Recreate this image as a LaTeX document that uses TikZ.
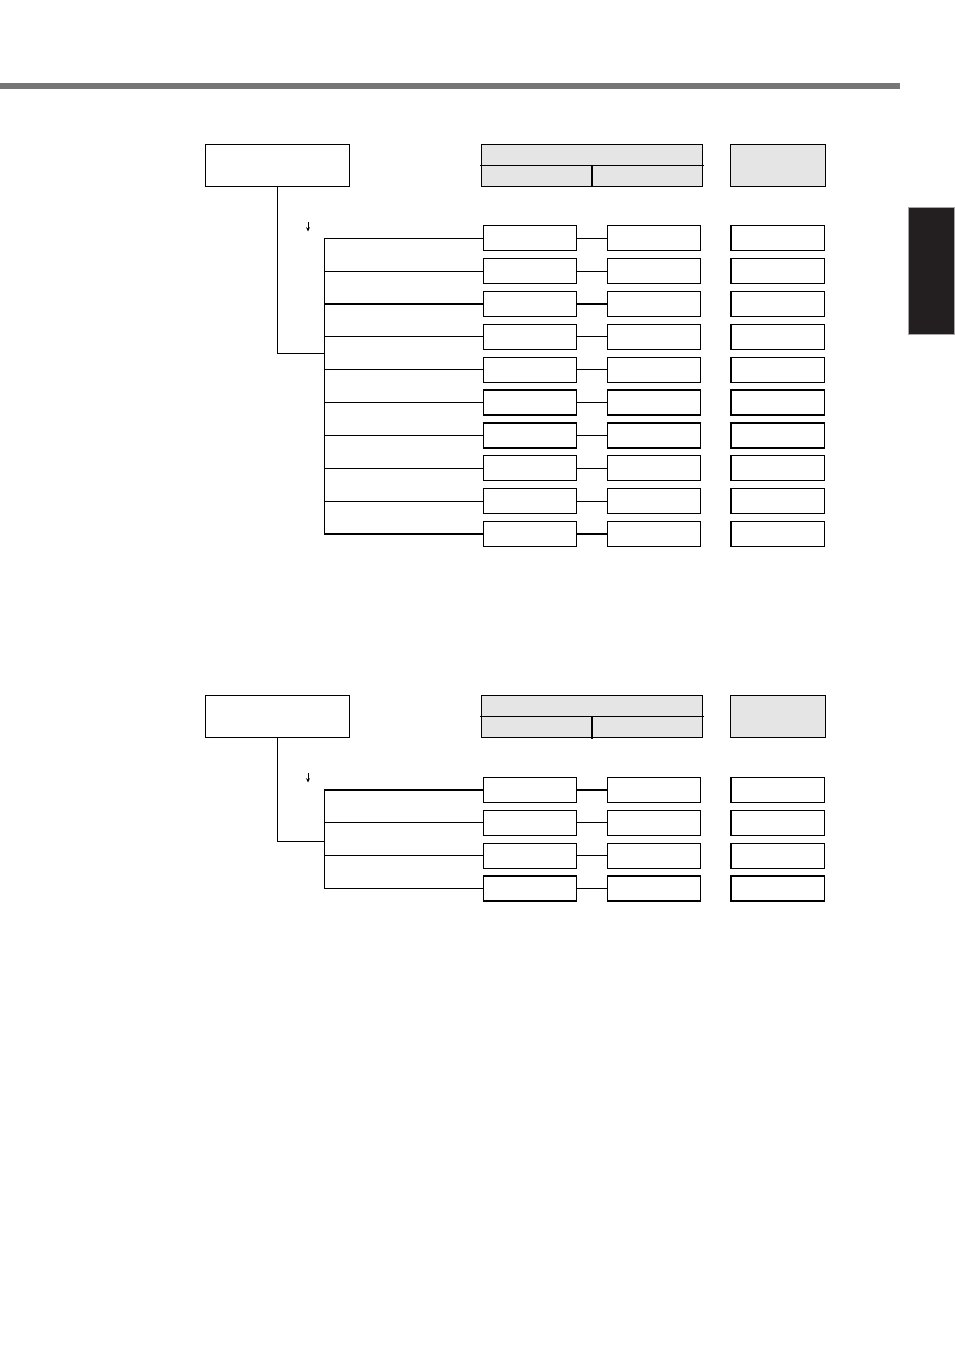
\documentclass[tikz,border=0pt]{standalone}
\usepackage{xcolor}
\definecolor{rulegray}{RGB}{118,118,118}
\definecolor{tabblack}{RGB}{35,31,32}
\definecolor{hdrgray}{RGB}{229,229,229}
\usetikzlibrary{positioning,arrows.meta}
\tikzset{
  mainbox/.style ={rectangle,draw=black,line width=0.9pt,inner sep=0pt,
                   minimum width=108.3pt,minimum height=31.5pt},
  hdrbox/.style  ={rectangle,draw=black,fill=hdrgray,line width=0.9pt,inner sep=0pt,
                   minimum height=31.5pt},
  rowbox/.style  ={rectangle,draw=black,line width=0.9pt,inner sep=0pt,
                   minimum width=70pt,minimum height=18.75pt},
  link/.style    ={line width=0.9pt,draw=black,line cap=rect},
  downtip/.style ={-{Stealth[length=3.2pt,width=2.8pt]},line width=0.5pt},
}
\begin{document}
\begin{tikzpicture}[x=0.75pt,y=-0.75pt,node distance=5pt and 22pt]
  \useasboundingbox (0,0) rectangle (954,1351);
  % page rule and side tab
  \fill[rulegray] (0,83) rectangle (900,89);
  \filldraw[fill=tabblack,draw=gray!70,line width=0.5pt] (908.3,207.3) rectangle (954,334.3);

  % upper chart
  \node[mainbox] (tmain) at (277.5,165.3) {};
  \node[hdrbox,minimum width=166pt] (thead) at (592,165.3) {};
  \node[hdrbox,minimum width=71.5pt] (tnote) at (778,165.3) {};
  \draw[link] (thead.west) -- (thead.east);
  \draw[link] (thead.center) -- (thead.south);
  \coordinate (tbus) at (324.3,353.3);
  \coordinate (tarr) at (308,222);
  \coordinate (tarrend) at (308,231.5);
  \draw[downtip] (tarr) -- (tarrend);
  \foreach \i in {0,...,9}{
    \node[rowbox] (ta\i) at (530,238.3+32.85*\i) {};
    \node[rowbox,right=of ta\i] (tb\i) {};
    \node[rowbox,right=of tb\i] (tc\i) {};
    \draw[link] (ta\i) -- (tb\i);
    \draw[link] (tbus |- ta\i) -- (ta\i);
  }
  \draw[link] (tbus |- ta0) -- (tbus |- ta9);
  \draw[link] (tmain) |- (tbus);

  % lower chart
  \node[mainbox] (bmain) at (277.5,716.7) {};
  \node[hdrbox,minimum width=166pt] (bhead) at (592,716.7) {};
  \node[hdrbox,minimum width=71.5pt] (bnote) at (778,716.7) {};
  \draw[link] (bhead.west) -- (bhead.east);
  \draw[link] (bhead.center) -- (bhead.south);
  \coordinate (bbus) at (324.3,841.3);
  \coordinate (barr) at (308,773);
  \coordinate (barrend) at (308,782.5);
  \draw[downtip] (barr) -- (barrend);
  \foreach \i in {0,...,3}{
    \node[rowbox] (ba\i) at (530,790+32.8*\i) {};
    \node[rowbox,right=of ba\i] (bb\i) {};
    \node[rowbox,right=of bb\i] (bc\i) {};
    \draw[link] (ba\i) -- (bb\i);
    \draw[link] (bbus |- ba\i) -- (ba\i);
  }
  \draw[link] (bbus |- ba0) -- (bbus |- ba3);
  \draw[link] (bmain) |- (bbus);
\end{tikzpicture}
\end{document}
